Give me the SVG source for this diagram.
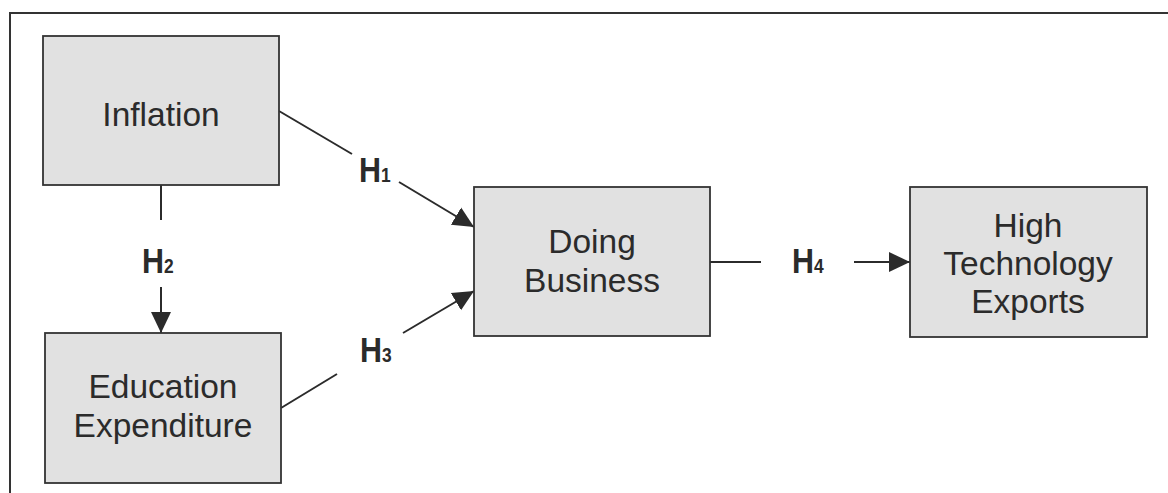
<svg xmlns="http://www.w3.org/2000/svg" width="1168" height="493" viewBox="0 0 1168 493">
<style>
.box{fill:#e1e1e1;stroke:#333;stroke-width:1.8}
.t{font-family:"Liberation Sans",Arial,sans-serif;font-size:33.5px;fill:#2b2b2b;text-anchor:middle}
.h{font-family:"Liberation Sans",Arial,sans-serif;font-weight:bold;font-size:35px;fill:#2b2b2b}
.s{font-size:20px}
.c{stroke:#2b2b2b;stroke-width:2;fill:none}
</style>
<defs>
<marker id="ah" markerUnits="userSpaceOnUse" markerWidth="22" markerHeight="22" viewBox="0 0 22 22" refX="21" refY="11" orient="auto">
<path d="M0,1 L21,11 L0,21 Z" fill="#2b2b2b"/>
</marker>
</defs>
<rect width="1168" height="493" fill="#fff"/>
<path d="M10,493 V13 H1168" fill="none" stroke="#333" stroke-width="2"/>
<g id="connectors">
<line class="c" x1="279" y1="111" x2="352" y2="154"/>
<line class="c" x1="399" y1="182" x2="474" y2="227" marker-end="url(#ah)"/>
<line class="c" x1="161" y1="185" x2="161" y2="220"/>
<line class="c" x1="161" y1="287" x2="161" y2="333" marker-end="url(#ah)"/>
<line class="c" x1="281" y1="408" x2="337" y2="374"/>
<line class="c" x1="403" y1="333" x2="474" y2="291" marker-end="url(#ah)"/>
<line class="c" x1="710" y1="262" x2="761" y2="262"/>
<line class="c" x1="854" y1="262" x2="910" y2="262" marker-end="url(#ah)"/>
<text class="h" transform="translate(359,182) scale(0.87,1)">H<tspan class="s">1</tspan></text>
<text class="h" transform="translate(142,273) scale(0.87,1)">H<tspan class="s">2</tspan></text>
<text class="h" transform="translate(360,362) scale(0.87,1)">H<tspan class="s">3</tspan></text>
<text class="h" transform="translate(792,273) scale(0.87,1)">H<tspan class="s">4</tspan></text>
</g>
<g id="inflation">
<rect class="box" x="43" y="36" width="236" height="149"/>
<text class="t" x="161" y="126">Inflation</text>
</g>
<g id="education">
<rect class="box" x="45" y="333" width="236" height="150"/>
<text class="t" x="163" y="398">Education</text>
<text class="t" x="163" y="437">Expenditure</text>
</g>
<g id="doing">
<rect class="box" x="474" y="187" width="236" height="149"/>
<text class="t" x="592" y="253">Doing</text>
<text class="t" x="592" y="292">Business</text>
</g>
<g id="hightech">
<rect class="box" x="910" y="187" width="237" height="150"/>
<text class="t" x="1028" y="237">High</text>
<text class="t" x="1028" y="275">Technology</text>
<text class="t" x="1028" y="313">Exports</text>
</g>
</svg>
